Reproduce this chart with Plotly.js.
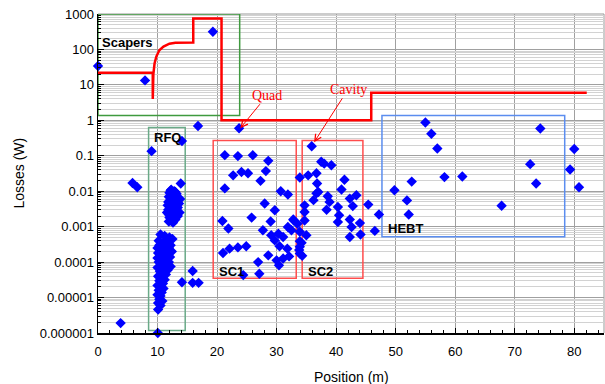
<!DOCTYPE html>
<html><head><meta charset="utf-8">
<script src="https://cdn.plot.ly/plotly-3.0.1.min.js"></script>
<style>html,body{margin:0;padding:0;background:#fff;}#chart{width:605px;height:384px;}</style>
</head><body><div id="chart"></div>
<script>
// ---- Data ----
// Isolated points (position m, loss W)
const miscX = [0, 7.9, 19.3, 16.8, 23.7, 9.0, 14.1, 5.8, 6.6, 13.9, 3.8, 10.05, 10.1, 14.1, 15.9, 15.9, 16.9];
const miscY = [34, 13.4, 316, 0.69, 0.6, 0.135, 0.26, 0.017, 0.013, 0.0165, 1.9e-6, 1e-6, 4.6e-6, 2.7e-5, 5.6e-5, 2.6e-5, 2.6e-5];

// RFQ upper cluster
const rfqUpX = [12.3,12.8,12.0,13.2,12.5,11.9,12.9,13.5,12.2,12.7,11.8,13.1,13.6,12.4,11.7,12.9,13.4,12.1,12.6,11.8,13.2,12.3,12.9,11.9,13.4,12.5,12.0,12.8,12.3,11.9,12.6,13.0,13.7,13.8,11.6,12.2,13.0];
const rfqUpY = [0.011,0.010,0.009,0.0085,0.008,0.007,0.0072,0.0065,0.006,0.0055,0.005,0.005,0.0045,0.0045,0.004,0.004,0.0035,0.0035,0.003,0.003,0.0028,0.0025,0.0023,0.0022,0.002,0.002,0.0018,0.0017,0.0015,0.0014,0.0013,0.0016,0.0025,0.006,0.0025,0.0105,0.0095];

// RFQ lower cluster
const rfqLoX = [10.5,11.2,12.0,12.5,10.2,11.6,10.8,12.2,10.3,11.4,10.0,11.9,10.7,12.4,11.1,10.1,11.7,10.5,12.1,10.0,11.3,10.8,11.9,10.2,11.5,10.6,12.2,10.0,11.0,11.7,10.4,10.9,11.4,10.1,10.7,11.2,10.3,10.9,10.0,10.6,11.0,10.2,10.7,10.0,10.5,10.3,10.8,10.1,10.5];
const rfqLoY = [6e-4,5.5e-4,5e-4,4.5e-4,4e-4,4e-4,3.5e-4,3e-4,3e-4,2.8e-4,2.5e-4,2.5e-4,2.2e-4,2e-4,2e-4,1.8e-4,1.7e-4,1.5e-4,1.4e-4,1.3e-4,1.3e-4,1.1e-4,1.0e-4,1.0e-4,9e-5,8e-5,7.5e-5,7e-5,6.5e-5,6e-5,5.5e-5,5e-5,4.5e-5,4e-5,3.5e-5,3.2e-5,3e-5,2.5e-5,2.2e-5,2e-5,1.8e-5,1.6e-5,1.4e-5,1.2e-5,1.1e-5,9e-6,8e-6,7e-6,6e-6];

// SC1 section
const sc1X = [21.3,23.5,26.0,28.6,22.7,24.1,25.2,28.2,27.3,21.3,30.7,31.9,28.0,29.7,25.8,29.0,20.9,21.9,27.7,29.1,30.3,31.1,32.5,32.9,29.7,30.5,31.8,28.6,30.0,31.1,32.1,30.4,26.9,21.0,22.1,23.5,24.9,27.1,24.4,33.9,33.9,33.9,33.9,31.9,33.5,34.2,33.8,34.3];
const sc1Y = [0.104,0.098,0.104,0.072,0.028,0.035,0.032,0.037,0.0196,0.012,0.010,0.0081,0.0045,0.0029,0.0018,0.0014,0.00145,0.00089,0.00079,0.00057,0.00063,0.00051,0.00079,0.0015,0.00041,0.00028,0.00024,0.000155,0.000112,0.000126,0.000145,0.000081,0.0001,0.00018,0.00024,0.00026,0.00028,4.7e-5,4.3e-5,0.0245,0.00072,0.00027,0.000174,0.00098,0.0012,0.00035,0.00022,0.00015];

// SC2 section
const sc2X = [35.9,37.5,39.2,35.3,36.7,41.4,36.8,40.9,36.7,38.6,42.3,43.4,36.2,38.9,45.4,42.8,34.7,38.4,40.3,34.7,40.5,47.2,32.8,34.7,42.3,40.3,44.0,42.6,46.5,44.1,42.3,35.0,33.9,38.0,37.0];
const sc2Y = [0.186,0.068,0.054,0.028,0.032,0.021,0.0165,0.0112,0.0087,0.0072,0.0062,0.0077,0.0056,0.005,0.0042,0.0038,0.004,0.003,0.0036,0.0026,0.0021,0.0022,0.0016,0.0015,0.0016,0.00135,0.00126,0.00098,0.00076,0.0006,0.00051,0.00057,0.00039,0.06,0.0095];

// HEBT section
const hebtX = [55.0,56.0,57.0,74.3,80.0,72.6,79.3,80.8,73.6,58.2,61.2,52.7,49.8,51.9,52.2,67.8];
const hebtY = [0.87,0.42,0.16,0.59,0.155,0.058,0.041,0.013,0.0165,0.025,0.026,0.0187,0.0107,0.0055,0.0022,0.0039];

// Loss limit (red step line)
const stepX = [0, 9.2, 9.2, 9.3, 9.5, 9.8, 10.3, 11.0, 12.0, 13.0, 16.0, 16.0, 20.75, 20.75, 45.9, 45.9, 82.1];
const stepY = [22, 22, 4, 20, 40, 63, 95, 120, 145, 155, 158, 750, 750, 1.0, 1.0, 6.0, 6.0];

// Section regions
const regionNames = ["Scapers", "RFQ", "SC1", "SC2", "HEBT"];
const regionX0 = [0, 8.5, 19.35, 34.3, 47.7];
const regionX1 = [23.8, 14.65, 33.3, 44.5, 78.4];
const regionY0 = [1.38, 1.17e-6, 3.5e-5, 3.5e-5, 5.2e-4];
const regionY1 = [1000, 0.63, 0.27, 0.27, 1.38];

// Axis tick labels
const yTickVals = [1000, 100, 10, 1, 0.1, 0.01, 0.001, 0.0001, 0.00001, 0.000001];
const yTickText = ["1000", "100", "10", "1", "0.1", "0.01", "0.001", "0.0001", "0.00001", "0.000001"];

// ---- Build chart ----
const allX = [].concat(miscX, rfqUpX, rfqLoX, sc1X, sc2X, hebtX);
const allY = [].concat(miscY, rfqUpY, rfqLoY, sc1Y, sc2Y, hebtY);

// minor log positions (2..9 of each decade)
const yMinor = [];
for (let e = -6; e < 3; e++) for (let m = 2; m <= 9; m++) yMinor.push(m * Math.pow(10, e));

const regionColors = ["#3f9a3f", "#6aaa88", "#ff4d4d", "#ff4d4d", "#5b8def"];
const labelPos = [[0.3, 158], [9.15, 0.33], [20.0, 5.6e-5], [34.9, 5.6e-5], [48.3, 8.7e-4]];

const shapes = [];
for (let i = 0; i < regionNames.length; i++) {
  shapes.push({type: 'rect', xref: 'x', yref: 'y', layer: 'between',
    x0: regionX0[i], x1: regionX1[i], y0: regionY0[i], y1: regionY1[i],
    line: {color: regionColors[i], width: 1.5}, fillcolor: 'rgba(0,0,0,0)'});
}
// grey frame top/right
shapes.push({type:'line', xref:'paper', yref:'paper', x0:0, x1:1, y0:1, y1:1, line:{color:'#999', width:1}, layer:'between'});
shapes.push({type:'line', xref:'paper', yref:'paper', x0:1, x1:1, y0:0, y1:1, line:{color:'#999', width:1}, layer:'between'});

const annotations = [];
for (let i = 0; i < regionNames.length; i++) {
  annotations.push({x: labelPos[i][0], y: Math.log10(labelPos[i][1]), xref:'x', yref:'y',
    text: regionNames[i], showarrow:false, xanchor:'left', yanchor:'middle',
    font:{family:'Liberation Sans, Arial, sans-serif', size:13, color:'#000', weight:'bold'}});
}
annotations.push({x: 23.9, y: Math.log10(0.6), xref:'x', yref:'y', text:'Quad', showarrow:true,
  ax: 27, ay: -33, arrowhead: 5, arrowsize: 1.3, arrowwidth: 1, arrowcolor:'#ff0000',
  font:{family:'Liberation Serif, Times New Roman, serif', size:14, color:'#ff0000'}});
annotations.push({x: 36.3, y: Math.log10(0.24), xref:'x', yref:'y', text:'Cavity', showarrow:true,
  ax: 34, ay: -53, arrowhead: 5, arrowsize: 1.3, arrowwidth: 1, arrowcolor:'#ff0000',
  font:{family:'Liberation Serif, Times New Roman, serif', size:14, color:'#ff0000'}});
// axis titles
annotations.push({xref:'paper', yref:'paper', x: 0.5, y: -0.138, text:'Position (m)', showarrow:false,
  xanchor:'center', yanchor:'middle', font:{size:14}});
annotations.push({xref:'paper', yref:'paper', x: -0.158, y: 0.5, text:'Losses (W)', showarrow:false,
  textangle: -90, xanchor:'center', yanchor:'middle', font:{size:14}});

const traces = [
  {x: stepX, y: stepY, type:'scatter', mode:'lines', line:{color:'#ff0000', width:2.5}, hoverinfo:'skip'},
  {x: allX, y: allY, type:'scatter', mode:'markers', cliponaxis:false,
   marker:{symbol:'diamond', size:8, color:'#0000ff', line:{width:0}}},
  // invisible trace bound to the minor-grid overlay axis
  {x: [0], y: [1], yaxis: 'y2', type:'scatter', mode:'markers', marker:{opacity:0}, hoverinfo:'skip'}
];

const layout = {
  width: 605, height: 384,
  margin: {l: 98, r: 1, t: 14, b: 51},
  paper_bgcolor: '#fff', plot_bgcolor: '#fff',
  showlegend: false,
  font: {family: 'Liberation Sans, Arial, sans-serif', size: 13, color: '#000'},
  xaxis: {range: [0, 85], tickmode: 'linear', tick0: 0, dtick: 10, ticks: 'inside', ticklen: 5, tickcolor:'#000',
    ticklabelstandoff: 6,
    minor: {tickmode: 'linear', dtick: 2, tick0: 0, ticks: 'inside', ticklen: 3, tickcolor:'#000', showgrid: false},
    showgrid: true, gridcolor: '#a0a0a0', gridwidth: 1, zeroline: false,
    showline: true, linecolor: '#000', linewidth: 1.5},
  yaxis: {type: 'log', range: [-6, 3], tickmode: 'array', tickvals: yTickVals, ticktext: yTickText,
    ticks: 'inside', ticklen: 6, tickcolor:'#000',
    showgrid: true, gridcolor: '#a0a0a0', zeroline: false,
    showline: true, linecolor: '#000', linewidth: 1.5},
  yaxis2: {type: 'log', range: [-6, 3], overlaying: 'y', side: 'left', tickmode: 'array', tickvals: yMinor,
    showticklabels: false, ticks: 'inside', ticklen: 3, tickcolor: '#000',
    showgrid: true, gridcolor: '#d2d2d2', zeroline: false, showline: false},
  shapes: shapes,
  annotations: annotations
};

Plotly.newPlot('chart', traces, layout, {staticPlot: true, displayModeBar: false});
</script>
</body></html>
